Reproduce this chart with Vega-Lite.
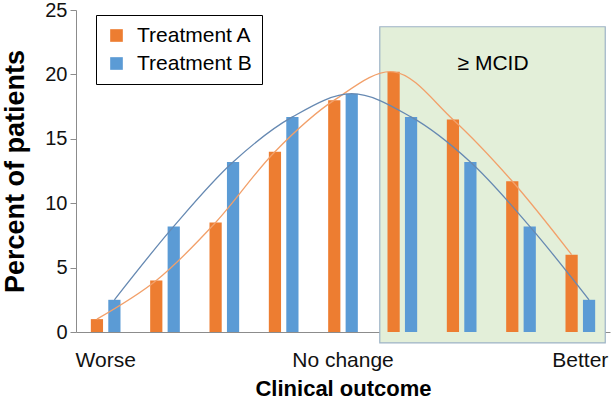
{
  "$schema": "https://vega.github.io/schema/vega-lite/v6.json",
  "width": 534,
  "height": 322,
  "autosize": {"type": "none"},
  "padding": {"left": 76, "top": 10, "right": 2, "bottom": 76},
  "background": "white",
  "config": {
    "view": {"stroke": null},
    "font": "Liberation Sans",
    "axis": {"grid": false, "domainColor": "#8c8c8c", "tickColor": "#8c8c8c", "labelColor": "#111", "titleColor": "#000", "labelFont": "Liberation Sans", "titleFont": "Liberation Sans"}
  },
  "datasets": {
    "bars": [
      {"group": 1, "treatment": "Treatment A", "value": 1.0},
      {"group": 1, "treatment": "Treatment B", "value": 2.5},
      {"group": 2, "treatment": "Treatment A", "value": 4.0},
      {"group": 2, "treatment": "Treatment B", "value": 8.2},
      {"group": 3, "treatment": "Treatment A", "value": 8.5},
      {"group": 3, "treatment": "Treatment B", "value": 13.2},
      {"group": 4, "treatment": "Treatment A", "value": 14.0},
      {"group": 4, "treatment": "Treatment B", "value": 16.7},
      {"group": 5, "treatment": "Treatment A", "value": 18.0},
      {"group": 5, "treatment": "Treatment B", "value": 18.5},
      {"group": 6, "treatment": "Treatment A", "value": 20.2},
      {"group": 6, "treatment": "Treatment B", "value": 16.7},
      {"group": 7, "treatment": "Treatment A", "value": 16.5},
      {"group": 7, "treatment": "Treatment B", "value": 13.2},
      {"group": 8, "treatment": "Treatment A", "value": 11.7},
      {"group": 8, "treatment": "Treatment B", "value": 8.2},
      {"group": 9, "treatment": "Treatment A", "value": 6.0},
      {"group": 9, "treatment": "Treatment B", "value": 2.5}
    ]
  },
  "layer": [
    {
      "data": {"values": [{"x1": 5.12, "x2": 8.92, "y1": -0.85, "y2": 23.7}]},
      "layer": [
        {
          "mark": {"type": "rect", "fill": "#e3efd9", "stroke": "#9db3c6", "strokeWidth": 1.2, "clip": false},
          "encoding": {
            "x": {"field": "x1", "type": "quantitative", "scale": {"domain": [0, 9], "nice": false, "zero": false}, "axis": null},
            "x2": {"field": "x2"},
            "y": {"field": "y1", "type": "quantitative", "scale": {"domain": [0, 25], "nice": false}},
            "y2": {"field": "y2"}
          }
        },
        {
          "mark": {"type": "text", "text": "≥ MCID", "fontSize": 21, "font": "Liberation Sans", "color": "#000", "baseline": "middle", "align": "center"},
          "encoding": {
            "x": {"datum": 7.03, "type": "quantitative"},
            "y": {"datum": 20.8, "type": "quantitative"}
          }
        }
      ]
    },
    {
      "data": {"name": "bars"},
      "layer": [
        {
          "mark": {"type": "bar"},
          "encoding": {
            "x": {"field": "group", "type": "ordinal", "scale": {"paddingInner": 0.5, "paddingOuter": 0.25},
              "axis": {"orient": "bottom", "title": "Clinical outcome", "titleFontSize": 22, "titleFontWeight": "bold", "titlePadding": 8, "labelFontSize": 21, "labelAngle": 0, "ticks": false, "labelPadding": 17,
                "labelExpr": "datum.value == 1 ? 'Worse' : datum.value == 5 ? 'No change' : datum.value == 9 ? 'Better' : ''", "domainColor": "#8c8c8c"}},
            "xOffset": {"field": "treatment", "type": "nominal", "scale": {"paddingInner": 0.3}},
            "y": {"field": "value", "type": "quantitative", "scale": {"domain": [0, 25], "nice": false},
              "axis": {"title": "Percent of patients", "titleFontSize": 27, "titleFontWeight": "bold", "titlePadding": 15, "labelFontSize": 20, "values": [0, 5, 10, 15, 20, 25], "tickSize": 6, "labelPadding": 3}},
            "color": {"field": "treatment", "type": "nominal", "scale": {"domain": ["Treatment A", "Treatment B"], "range": ["#ed7d31", "#5b9bd5"]},
              "legend": {"title": null, "orient": "none", "legendX": 20, "legendY": 5, "strokeColor": "#000", "fillColor": "#fff", "padding": 10, "labelFontSize": 21, "labelColor": "#000", "symbolType": "square", "symbolSize": 160, "symbolStrokeWidth": 0, "labelOffset": 10, "rowPadding": 6}}
          }
        },
        {
          "transform": [{"filter": "datum.treatment == 'Treatment A'"}],
          "mark": {"type": "line", "interpolate": "catmull-rom", "color": "#f2a06a", "strokeWidth": 1.3},
          "encoding": {
            "x": {"field": "group", "type": "ordinal"},
            "xOffset": {"field": "treatment", "type": "nominal"},
            "y": {"field": "value", "type": "quantitative"}
          }
        },
        {
          "transform": [{"filter": "datum.treatment == 'Treatment B'"}],
          "mark": {"type": "line", "interpolate": "catmull-rom", "color": "#6689b2", "strokeWidth": 1.3},
          "encoding": {
            "x": {"field": "group", "type": "ordinal"},
            "xOffset": {"field": "treatment", "type": "nominal"},
            "y": {"field": "value", "type": "quantitative"}
          }
        }
      ]
    }
  ],
  "resolve": {"scale": {"x": "independent"}}
}
